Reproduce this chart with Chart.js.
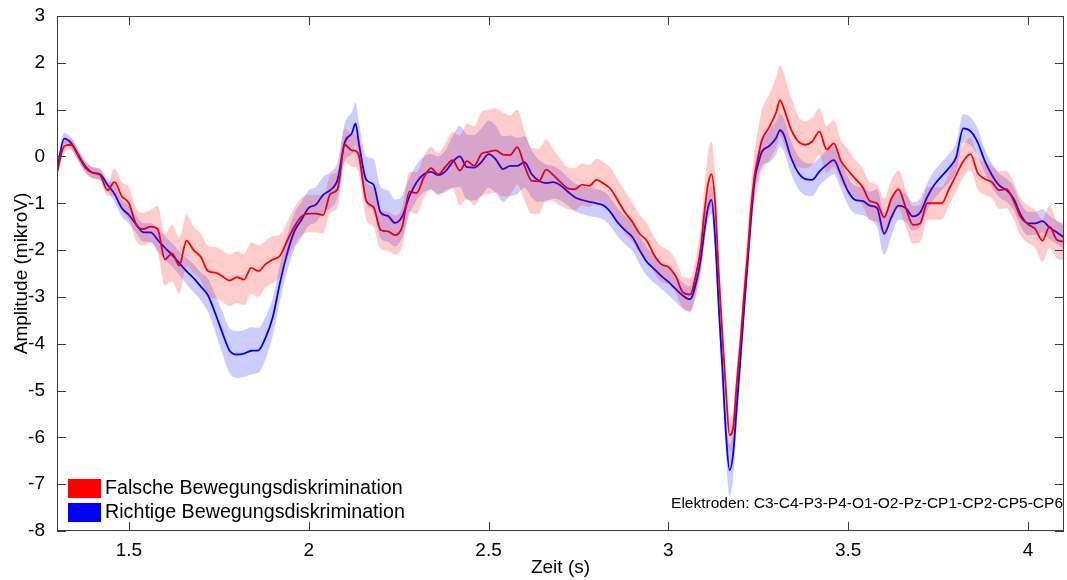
<!DOCTYPE html>
<html>
<head>
<meta charset="utf-8">
<script src="https://cdn.jsdelivr.net/npm/chart.js@4.4.1/dist/chart.umd.min.js"></script>
<style>
  body { margin: 0; background: #fff; }
  #wrap { width: 1067px; height: 580px; position: relative; }
</style>
</head>
<body>
<div id="wrap"><canvas id="c"></canvas></div>
<script>
"use strict"
// Zeitachse (s), dichter um den steilen Ausschlag bei ~3.15 s
const times = [
  1.30,1.32,1.34,1.36,1.38,1.40,1.42,1.44,1.46,1.48,1.50,1.52,1.54,1.56,1.58,1.60,1.62,1.64,1.66,1.68,
  1.70,1.72,1.74,1.76,1.78,1.80,1.82,1.84,1.86,1.88,1.90,1.92,1.94,1.96,1.98,2.00,2.02,2.04,2.06,2.08,
  2.10,2.12,2.13,
  2.14,2.16,2.18,2.20,2.22,2.24,2.26,2.28,2.30,2.32,2.34,2.36,2.38,2.40,2.42,2.44,2.46,2.48,2.50,2.52,
  2.54,2.56,2.58,2.60,2.62,2.64,2.66,2.68,2.70,2.72,2.74,2.76,2.78,2.80,2.82,2.84,2.86,2.88,2.90,2.92,
  2.94,2.96,2.98,3.00,3.02,3.04,3.06,3.08,
  3.09,3.10,3.11,3.12,3.13,3.14,3.15,3.16,3.17,3.18,3.19,3.20,3.21,3.22,3.23,3.24,3.25,3.26,
  3.28,3.30,3.31,3.32,3.34,3.36,3.38,3.40,3.42,3.44,3.46,3.48,3.50,3.52,3.54,3.56,3.58,3.60,3.62,3.64,
  3.66,3.68,3.70,3.72,3.74,3.76,3.78,3.80,3.82,3.84,3.86,3.88,3.90,3.92,3.94,3.96,3.98,4.00,4.02,4.04,
  4.06,4.08,4.10
];

// Falsche Bewegungsdiskrimination (rot)
const redMean = [
  -0.35,0.22,0.25,0.0,-0.25,-0.35,-0.4,-0.72,-0.55,-0.85,-1.0,-1.45,-1.55,-1.5,-1.55,-2.2,-2.07,-2.33,-1.8,-2.0,
  -2.15,-2.45,-2.48,-2.56,-2.65,-2.58,-2.63,-2.38,-2.45,-2.3,-2.2,-2.12,-1.8,-1.5,-1.28,-1.22,-1.22,-1.25,-0.8,-0.7,
  0.25,0.13,0.12,
  0.0,-0.95,-1.08,-1.57,-1.6,-1.68,-1.5,-0.75,-0.78,-0.45,-0.25,-0.38,-0.22,-0.08,-0.3,-0.1,-0.2,0.05,0.1,0.13,
  0.04,0.03,0.2,-0.2,-0.52,-0.53,-0.28,-0.4,-0.55,-0.68,-0.7,-0.6,-0.63,-0.5,-0.58,-0.7,-0.95,-1.2,-1.4,-1.65,
  -1.8,-2.1,-2.3,-2.36,-2.55,-2.9,-2.95,-2.4,
  -1.95,-1.2,-0.6,-0.38,-1.0,-2.5,-3.8,-5.0,-5.95,-5.8,-4.85,-4.0,-3.0,-2.1,-1.1,-0.4,0.0,0.35,
  0.62,0.95,1.2,1.05,0.6,0.33,0.25,0.32,0.53,0.15,0.28,-0.1,-0.3,-0.48,-0.65,-0.95,-1.0,-1.3,-0.9,-0.7,
  -1.1,-1.46,-1.43,-1.0,-1.0,-1.0,-0.7,-0.4,-0.1,0.05,-0.35,-0.48,-0.55,-0.72,-0.7,-0.95,-1.3,-1.45,-1.55,-1.8,
  -1.5,-1.78,-1.82
];
const redSem = [
  0.12,0.12,0.12,0.12,0.12,0.12,0.12,0.12,0.3,0.3,0.35,0.35,0.35,0.35,0.5,0.55,0.6,0.6,0.55,0.5,
  0.5,0.55,0.55,0.55,0.55,0.55,0.55,0.55,0.55,0.5,0.5,0.45,0.4,0.4,0.4,0.4,0.4,0.4,0.4,0.4,
  0.35,0.35,0.35,
  0.4,0.4,0.42,0.42,0.42,0.42,0.42,0.42,0.45,0.45,0.45,0.45,0.5,0.6,0.75,0.8,0.85,0.9,0.9,0.9,
  0.9,0.85,0.8,0.75,0.7,0.7,0.65,0.55,0.5,0.45,0.45,0.45,0.45,0.45,0.45,0.45,0.45,0.45,0.42,0.4,
  0.38,0.38,0.38,0.36,0.35,0.35,0.35,0.4,
  0.45,0.55,0.65,0.7,0.6,0.45,0.4,0.35,0.35,0.35,0.35,0.35,0.4,0.45,0.5,0.55,0.6,0.65,
  0.7,0.75,0.75,0.75,0.7,0.55,0.5,0.5,0.5,0.5,0.5,0.45,0.45,0.4,0.4,0.4,0.4,0.4,0.4,0.4,
  0.4,0.4,0.4,0.35,0.35,0.35,0.35,0.35,0.35,0.35,0.35,0.35,0.35,0.4,0.4,0.4,0.4,0.4,0.4,0.45,
  0.45,0.4,0.4
];

// Richtige Bewegungsdiskrimination (blau)
const blueMean = [
  -0.3,0.38,0.28,0.02,-0.22,-0.35,-0.38,-0.6,-0.8,-1.1,-1.25,-1.45,-1.62,-1.62,-1.78,-1.95,-2.1,-2.28,-2.45,-2.6,
  -2.78,-2.97,-3.35,-3.77,-4.15,-4.23,-4.21,-4.15,-4.14,-3.87,-3.43,-2.7,-2.07,-1.6,-1.35,-1.1,-1.03,-0.82,-0.72,-0.5,
  0.3,0.5,0.7,
  0.25,-0.5,-0.6,-1.2,-1.27,-1.42,-1.28,-0.85,-0.55,-0.38,-0.33,-0.4,-0.32,-0.12,0.0,-0.23,-0.24,-0.12,0.05,-0.06,
  -0.27,-0.2,-0.2,-0.12,-0.38,-0.52,-0.57,-0.55,-0.62,-0.75,-0.87,-0.93,-0.97,-1.0,-1.05,-1.2,-1.42,-1.58,-1.72,-2.0,
  -2.25,-2.4,-2.55,-2.68,-2.83,-2.97,-3.05,-2.6,
  -2.2,-1.6,-1.1,-0.93,-1.75,-3.2,-4.5,-5.9,-6.7,-6.35,-5.35,-4.35,-3.3,-2.3,-1.3,-0.5,-0.15,0.1,
  0.22,0.4,0.56,0.48,0.0,-0.33,-0.48,-0.5,-0.32,-0.18,-0.08,-0.4,-0.75,-0.93,-0.95,-1.05,-1.1,-1.65,-1.3,-1.05,
  -1.1,-1.28,-1.2,-0.86,-0.6,-0.42,-0.25,-0.02,0.6,0.54,0.3,-0.1,-0.4,-0.62,-0.72,-0.9,-1.25,-1.43,-1.43,-1.38,
  -1.52,-1.62,-1.73
];
const blueSem = [
  0.12,0.12,0.12,0.12,0.12,0.12,0.12,0.12,0.18,0.18,0.18,0.18,0.2,0.2,0.25,0.25,0.25,0.25,0.28,0.3,
  0.3,0.35,0.4,0.45,0.48,0.5,0.5,0.5,0.48,0.45,0.4,0.38,0.38,0.38,0.38,0.38,0.38,0.38,0.38,0.38,
  0.4,0.45,0.45,
  0.45,0.5,0.55,0.55,0.55,0.5,0.45,0.4,0.38,0.38,0.38,0.4,0.45,0.55,0.65,0.7,0.7,0.72,0.72,0.72,
  0.7,0.65,0.6,0.55,0.5,0.45,0.4,0.35,0.32,0.3,0.3,0.3,0.3,0.3,0.3,0.3,0.3,0.3,0.3,0.3,
  0.3,0.3,0.28,0.28,0.28,0.28,0.28,0.28,
  0.3,0.3,0.3,0.3,0.3,0.35,0.4,0.45,0.55,0.5,0.45,0.4,0.35,0.3,0.3,0.3,0.3,0.3,
  0.35,0.35,0.35,0.35,0.35,0.35,0.35,0.35,0.3,0.3,0.3,0.3,0.3,0.3,0.3,0.3,0.4,0.45,0.4,0.3,
  0.3,0.3,0.3,0.3,0.3,0.3,0.3,0.3,0.3,0.3,0.3,0.25,0.25,0.25,0.25,0.25,0.25,0.25,0.25,0.25,
  0.25,0.25,0.25
];

const xTicks = [1.5, 2, 2.5, 3, 3.5, 4];
const yTicks = [-8, -7, -6, -5, -4, -3, -2, -1, 0, 1, 2, 3];
const legendLabels = ["Falsche Bewegungsdiskrimination", "Richtige Bewegungsdiskrimination"];
const noteText = "Elektroden: C3-C4-P3-P4-O1-O2-Pz-CP1-CP2-CP5-CP6";

const FONT = '"Liberation Sans", Arial, sans-serif';

function pts(ys) {
  return ys.map((y, i) => ({x: times[i], y: y}));
}
function band(mean, sem, sign) {
  return mean.map((m, i) => ({x: times[i], y: m + sign * sem[i]}));
}

const bandStyle = {borderWidth: 0, pointRadius: 0, cubicInterpolationMode: 'monotone'};
const lineStyle = {borderWidth: 1.8, pointRadius: 0, fill: false, cubicInterpolationMode: 'monotone'};

const framePlugin = {
  id: 'frame',
  afterDraw(chart) {
    const ctx = chart.ctx;
    const a = chart.chartArea;
    const x = chart.scales.x, y = chart.scales.y;
    ctx.save();
    ctx.strokeStyle = '#3c3c3c';
    ctx.lineWidth = 1;
    ctx.strokeRect(a.left + 0.5, a.top + 0.5, a.right - a.left - 1, a.bottom - a.top - 1);
    const tl = 9;
    ctx.beginPath();
    xTicks.forEach(v => {
      const px = Math.round(x.getPixelForValue(v)) + 0.5;
      ctx.moveTo(px, a.bottom); ctx.lineTo(px, a.bottom - tl);
      ctx.moveTo(px, a.top); ctx.lineTo(px, a.top + tl);
    });
    yTicks.forEach(v => {
      const py = Math.round(y.getPixelForValue(v)) + 0.5;
      ctx.moveTo(a.left, py); ctx.lineTo(a.left + tl, py);
      ctx.moveTo(a.right, py); ctx.lineTo(a.right - tl, py);
    });
    ctx.stroke();

    // Legende unten links
    const colors = ['#ff0000', '#0000ff'];
    ctx.font = '19.7px ' + FONT;
    ctx.textBaseline = 'middle';
    ctx.textAlign = 'left';
    legendLabels.forEach((lab, i) => {
      const cy = a.bottom - 43 + i * 24;
      ctx.fillStyle = colors[i];
      ctx.fillRect(a.left + 11, cy - 9, 33, 19);
      ctx.fillStyle = '#000';
      ctx.fillText(lab, a.left + 48, cy + 1);
    });

    // Elektroden-Hinweis unten rechts
    ctx.font = '15.5px ' + FONT;
    ctx.textAlign = 'right';
    ctx.fillStyle = '#000';
    ctx.fillText(noteText, a.right - 1, a.bottom - 27);
    ctx.restore();
  }
};

new Chart(document.getElementById('c'), {
  type: 'line',
  data: {
    datasets: [
      Object.assign({label: 'rot oben', data: band(redMean, redSem, 1), fill: '+1', backgroundColor: 'rgba(255,0,0,0.2)'}, bandStyle),
      Object.assign({label: 'rot unten', data: band(redMean, redSem, -1), fill: false}, bandStyle),
      Object.assign({label: 'blau oben', data: band(blueMean, blueSem, 1), fill: '+1', backgroundColor: 'rgba(0,0,255,0.2)'}, bandStyle),
      Object.assign({label: 'blau unten', data: band(blueMean, blueSem, -1), fill: false}, bandStyle),
      Object.assign({label: legendLabels[0], data: pts(redMean), borderColor: '#ff0000'}, lineStyle),
      Object.assign({label: legendLabels[1], data: pts(blueMean), borderColor: '#0000ff'}, lineStyle)
    ]
  },
  options: {
    responsive: true,
    maintainAspectRatio: false,
    animation: false,
    devicePixelRatio: 1,
    layout: {padding: {top: 16, right: 3, left: 0, bottom: 0}},
    plugins: {legend: {display: false}, tooltip: {enabled: false}},
    scales: {
      x: {
        type: 'linear',
        min: 1.3,
        max: 4.1,
        afterBuildTicks: s => { s.ticks = xTicks.map(v => ({value: v})); },
        afterFit: s => { s.height = 49; },
        grid: {display: false},
        border: {display: false},
        ticks: {color: '#000', font: {family: FONT, size: 19}, padding: 0, maxRotation: 0, autoSkip: false,
                callback: v => String(v)},
        title: {display: true, text: 'Zeit (s)', color: '#000', font: {family: FONT, size: 19}, padding: {top: 0, bottom: 1}}
      },
      y: {
        min: -8,
        max: 3,
        afterBuildTicks: s => { s.ticks = yTicks.map(v => ({value: v})); },
        afterFit: s => { s.width = 57; },
        grid: {display: false},
        border: {display: false},
        ticks: {color: '#000', font: {family: FONT, size: 19}, padding: 4, autoSkip: false,
                callback: v => String(v)},
        title: {display: true, text: 'Amplitude (mikroV)', color: '#000', font: {family: FONT, size: 19}, padding: {top: 10, bottom: 0}}
      }
    }
  },
  plugins: [framePlugin]
});
</script>
</body>
</html>
